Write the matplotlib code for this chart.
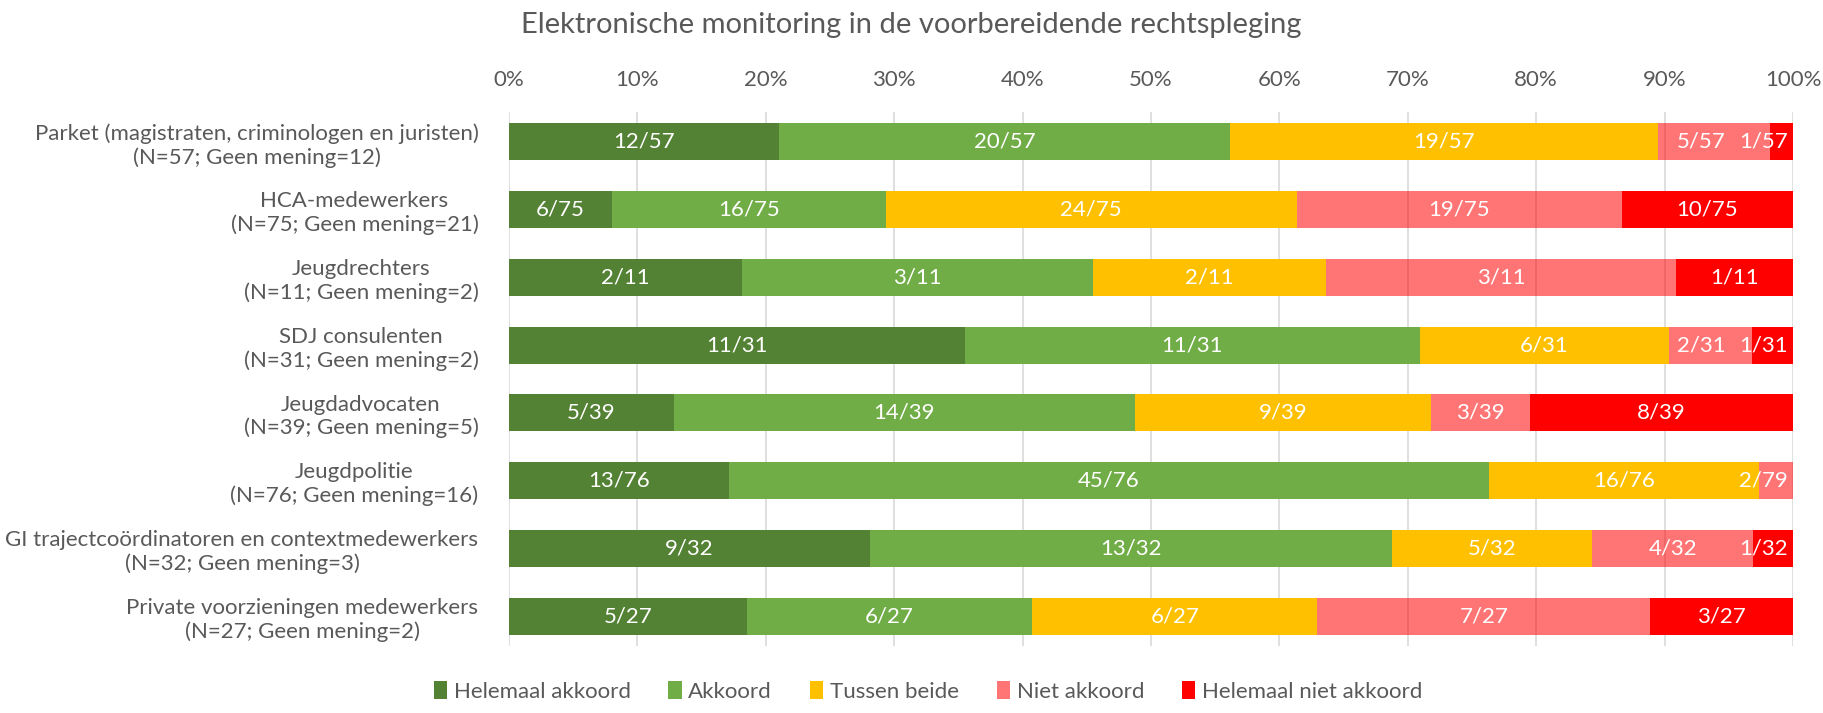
import matplotlib.pyplot as plt
import numpy as np

plt.rcParams['font.family'] = ['Lato', 'DejaVu Sans']

groepen = ['Parket (magistraten, criminologen en juristen)\n(N=57; Geen mening=12)',
           'HCA-medewerkers\n(N=75; Geen mening=21)',
           'Jeugdrechters\n(N=11; Geen mening=2)',
           'SDJ consulenten\n(N=31; Geen mening=2)',
           'Jeugdadvocaten\n(N=39; Geen mening=5)',
           'Jeugdpolitie\n(N=76; Geen mening=16)',
           'GI trajectcoördinatoren en contextmedewerkers\n(N=32; Geen mening=3)',
           'Private voorzieningen medewerkers\n(N=27; Geen mening=2)']
totaal = [57, 75, 11, 31, 39, 76, 32, 27]
helemaal_akkoord = [12, 6, 2, 11, 5, 13, 9, 5]
akkoord = [20, 16, 3, 11, 14, 45, 13, 6]
tussen_beide = [19, 24, 2, 6, 9, 16, 5, 6]
niet_akkoord = [5, 19, 3, 2, 3, 2, 4, 7]
helemaal_niet = [1, 10, 1, 1, 8, 0, 1, 3]
reeksen = ['Helemaal akkoord', 'Akkoord', 'Tussen beide', 'Niet akkoord', 'Helemaal niet akkoord']
# labels as printed in the original (note 2/79)
noemer_label = [[57]*5, [75]*5, [11]*5, [31]*5, [39]*5, [76, 76, 76, 79, 76], [32]*5, [27]*5]

kleuren = ['#548235', '#70AD47', '#FFC000', (1, 0, 0, 0.54), '#FF0000']
grijs = '#595959'
fs = 16

data = np.array([helemaal_akkoord, akkoord, tussen_beide, niet_akkoord, helemaal_niet], dtype=float)
tot = np.array(totaal, dtype=float)
pct = data / tot * 100

fig = plt.figure(figsize=(18.23, 7.13), dpi=100)
ax = fig.add_axes([509/1823, 1 - 646/713, (1793-509)/1823, (646-112)/713])

y = np.arange(len(groepen))
links = np.zeros(len(groepen))
rij_labels = [[] for _ in groepen]
for i, naam in enumerate(reeksen):
    ax.barh(y, pct[i], left=links, height=0.545, color=kleuren[i], label=naam, zorder=2)
    for j in range(len(groepen)):
        if data[i, j] > 0:
            t = ax.text(links[j] + pct[i, j] / 2, y[j], '%d/%d' % (data[i, j], noemer_label[j][i]),
                        ha='center', va='center', color='white', fontsize=fs, zorder=3)
            rij_labels[j].append(t)
    links += pct[i]

ax.set_xlim(0, 100)
ax.set_ylim(len(groepen) - 0.56, -0.44)
ax.set_xticks(np.arange(0, 101, 10))
ax.set_xticklabels(['%d%%' % v for v in range(0, 101, 10)])
ax.xaxis.tick_top()
ax.tick_params(axis='x', length=0, pad=16, labelsize=fs, labelcolor=grijs)
ax.set_yticks(y)
ax.set_yticklabels(groepen, fontsize=fs, color=grijs, multialignment='center')
ax.tick_params(axis='y', length=0, pad=22)
ax.grid(axis='x', color='#D9D9D9', linewidth=1.2, zorder=1)
for s in ax.spines.values():
    s.set_visible(False)

# keep labels inside the bar at the right end and apart from each other
r = fig.canvas.get_renderer()
inv = ax.transData.inverted()
grens = ax.transData.transform((100, 0))[0] - 5
for rij in rij_labels:
    rechts = grens
    for t in reversed(rij):
        bb = t.get_window_extent(r)
        if bb.x1 > rechts:
            dx = inv.transform((bb.x1, 0))[0] - inv.transform((rechts, 0))[0]
            t.set_x(t.get_position()[0] - dx)
            bb = t.get_window_extent(r)
        rechts = bb.x0 - 14

fig.suptitle('Elektronische monitoring in de voorbereidende rechtspleging',
             y=1 - 12/713, va='top', fontsize=21, color=grijs)

fig.legend(loc='lower center', bbox_to_anchor=(0.509, -0.012), ncol=5, frameon=False,
           fontsize=fs, labelcolor=grijs, handlelength=0.6, handleheight=0.9,
           handletextpad=0.3, columnspacing=1.7)

fig.savefig('out.png', dpi=100)
